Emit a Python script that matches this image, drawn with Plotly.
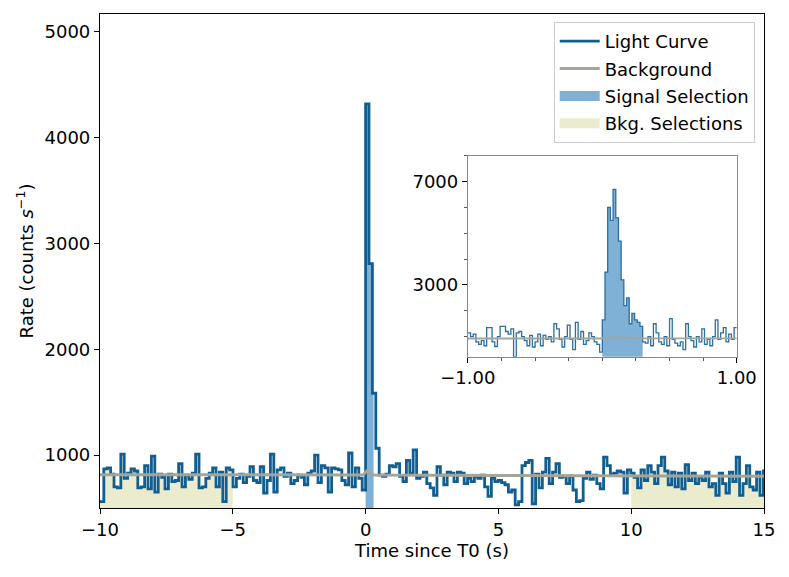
import numpy as np
import plotly.graph_objects as go

# Main light curve: 0.128 s bins starting at -10.112 s (T0 falls on a bin edge)
BIN_START = -10.112
BIN_WIDTH = 0.128
rate = [
    560, 560, 870, 880, 820, 700, 690, 1010, 780, 830,
    870, 850, 690, 700, 900, 680, 990, 650, 820, 790,
    680, 820, 750, 760, 920, 700, 810, 770, 830, 1010,
    690, 700, 780, 830, 880, 700, 840, 560, 880, 860,
    700, 780, 820, 740, 800, 890, 760, 740, 890, 640,
    760, 1010, 650, 860, 880, 800, 830, 730, 760, 810,
    790, 720, 830, 850, 1000, 740, 900, 880, 650, 880,
    870, 860, 760, 720, 1020, 700, 880, 780, 670, 4320,
    2810, 1585, 1065, 810, 800, 820, 900, 890, 920, 800,
    750, 950, 830, 1050, 780, 800, 840, 730, 690, 620,
    890, 810, 720, 840, 830, 750, 840, 830, 730, 780,
    750, 800, 780, 810, 700, 610, 780, 750, 760, 740,
    720, 650, 670, 530, 560, 900, 930, 950, 540, 820,
    690, 840, 970, 730, 840, 920, 790, 800, 730, 800,
    670, 560, 570, 780, 840, 770, 810, 730, 680, 980,
    900, 820, 830, 850, 840, 640, 860, 830, 790, 690,
    860, 760, 900, 840, 730, 900, 980, 850, 720, 840,
    700, 830, 680, 910, 760, 830, 730, 790, 760, 840,
    700, 730, 620, 830, 730, 640, 840, 750, 980, 620,
    730, 900, 700, 670, 840, 620, 850,
]
bkg_time = [-10.0, -0.1, 0.05, 0.3, 15.0]
bkg_rate = [815, 812, 850, 812, 800]

# Zoomed light curve: 0.02 s bins from -1 s to 1 s
ZOOM_START = -1.0
ZOOM_WIDTH = 0.02
zoom_rate = [
    1150, 1000, 1100, 800, 700, 850, 650, 1350, 1350, 800,
    620, 1000, 1400, 1400, 1200, 1100, 1300, 220, 1150, 1200,
    1000, 850, 650, 1050, 600, 800, 1100, 650, 1050, 900,
    1000, 800, 1500, 1300, 900, 600, 1000, 1450, 900, 500,
    1550, 900, 1200, 700, 850, 1150, 1000, 800, 700, 400,
    1650, 3500, 6000, 5500, 6700, 5600, 4700, 3200, 2200, 2500,
    1500, 1900, 1650, 1550, 1400, 800, 750, 1000, 650, 1500,
    1150, 800, 700, 1000, 650, 1700, 900, 750, 650, 800,
    500, 1500, 1000, 850, 600, 1000, 800, 1300, 700, 900,
    650, 1000, 1650, 900, 1150, 1350, 800, 1100, 900, 1350,
]
zoom_bkg_time = [-1.0, -0.02, 0.1, 0.3, 1.0]
zoom_bkg_rate = [930, 930, 975, 940, 935]

signal_window = (0.0, 0.3)
bkg_windows = [(-10.0, -5.0), (10.0, 15.0)]

LC_COLOR = "#125e91"
BKG_COLOR = "#a2a59a"
SIG_COLOR = "#7fb0d5"
BKGSEL_COLOR = "#ebebcd"
FONT = "DejaVu Sans"
FS = 18


def step_xy(start, width, values):
    edges = np.round(start + width * np.arange(len(values) + 1), 6)
    return list(edges), list(values) + [values[-1]]


def window_xy(start, width, values, lo, hi):
    edges = np.round(start + width * np.arange(len(values) + 1), 6)
    xs = [lo] + [e for e in edges if lo < e < hi] + [hi]
    ys = []
    for x in xs[:-1]:
        i = int(np.floor((x - start) / width + 1e-6))
        ys.append(values[min(i, len(values) - 1)])
    ys.append(ys[-1])
    return xs, ys


fig = go.Figure()

# background selections
for lo, hi in bkg_windows:
    x, y = window_xy(BIN_START, BIN_WIDTH, rate, lo, hi)
    fig.add_trace(go.Scatter(
        x=x, y=y, mode="lines", line=dict(width=0.5, color="#dcdcb4", shape="hv"),
        fill="tozeroy", fillcolor=BKGSEL_COLOR, showlegend=False))

# signal selection
x, y = window_xy(BIN_START, BIN_WIDTH, rate, *signal_window)
fig.add_trace(go.Scatter(
    x=x, y=y, mode="lines", line=dict(width=0, color=SIG_COLOR, shape="hv"),
    fill="tozeroy", fillcolor=SIG_COLOR, showlegend=False))

x, y = step_xy(BIN_START, BIN_WIDTH, rate)
fig.add_trace(go.Scatter(
    x=x, y=y, mode="lines", line=dict(width=2.8, color=LC_COLOR, shape="hv"),
    name="Light Curve", legendrank=1, legendgroup="a"))

fig.add_trace(go.Scatter(
    x=bkg_time, y=bkg_rate, mode="lines", line=dict(width=3, color=BKG_COLOR),
    name="Background", legendrank=2, legendgroup="b"))

# legend patches for the selections
fig.add_trace(go.Scatter(
    x=[None], y=[None], mode="lines", line=dict(width=14, color=SIG_COLOR),
    name="Signal Selection", legendrank=3, legendgroup="c"))
fig.add_trace(go.Scatter(
    x=[None], y=[None], mode="lines", line=dict(width=14, color=BKGSEL_COLOR),
    name="Bkg. Selections", legendrank=4, legendgroup="d"))

# inset
x, y = window_xy(ZOOM_START, ZOOM_WIDTH, zoom_rate, *signal_window)
fig.add_trace(go.Scatter(
    x=x, y=y, xaxis="x2", yaxis="y2", mode="lines",
    line=dict(width=0, color=SIG_COLOR, shape="hv"),
    fill="tozeroy", fillcolor=SIG_COLOR, showlegend=False))

x, y = step_xy(ZOOM_START, ZOOM_WIDTH, zoom_rate)
fig.add_trace(go.Scatter(
    x=x, y=y, xaxis="x2", yaxis="y2", mode="lines",
    line=dict(width=1.3, color="#2a6ea2", shape="hv"), showlegend=False))

fig.add_trace(go.Scatter(
    x=zoom_bkg_time, y=zoom_bkg_rate, xaxis="x2", yaxis="y2", mode="lines",
    line=dict(width=1.8, color=BKG_COLOR), showlegend=False))

axis_common = dict(showgrid=False, zeroline=False, showline=True, mirror=True,
                   ticks="outside", tickcolor="black",
                   tickfont=dict(size=FS, color="black", family=FONT))

fig.update_layout(
    width=781, height=569,
    margin=dict(l=92, r=25, t=6, b=69),
    paper_bgcolor="white", plot_bgcolor="white",
    font=dict(family=FONT, size=FS, color="black"),
    xaxis=dict(range=[-10, 15], tickvals=[-10, -5, 0, 5, 10, 15], ticklen=5,
               linecolor="black", linewidth=1.2,
               title=dict(text="Time since T0 (s)", standoff=4, font=dict(size=FS)),
               **axis_common),
    yaxis=dict(range=[500, 5170], tickvals=[1000, 2000, 3000, 4000, 5000], ticklen=5,
               linecolor="black", linewidth=1.2,
               title=dict(text="Rate (counts <i>s</i><sup>−1</sup>)", standoff=6,
                          font=dict(size=FS)),
               **axis_common),
    xaxis2=dict(domain=[0.554, 0.959], anchor="y2", range=[-1, 1],
                tickvals=[-1, 1], tickformat=".2f", ticklen=5,
                linecolor="#888888", linewidth=1,
                minor=dict(dtick=0.25, tick0=0, ticks="outside", ticklen=3, tickcolor="#555555"),
                **axis_common),
    yaxis2=dict(domain=[0.306, 0.713], anchor="x2", range=[220, 8000],
                tickvals=[3000, 7000], ticklen=5,
                linecolor="#888888", linewidth=1,
                minor=dict(dtick=1000, tick0=0, ticks="outside", ticklen=3, tickcolor="#555555"),
                **axis_common),
    legend=dict(x=0.986, y=0.984, xanchor="right", yanchor="top",
                bgcolor="white", bordercolor="#cccccc", borderwidth=1,
                font=dict(size=FS, family=FONT), itemwidth=40,
                traceorder="grouped", tracegroupgap=1),
)

fig.write_html("out.html")
